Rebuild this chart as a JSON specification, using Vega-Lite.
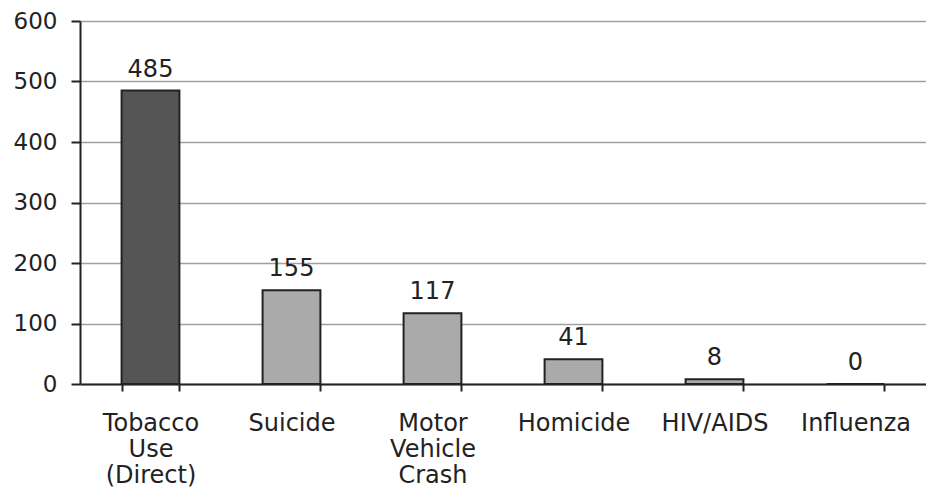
{
  "$schema": "https://vega.github.io/schema/vega-lite/v6.json",
  "autosize": {"type": "none"},
  "width": 846,
  "height": 363,
  "padding": {"left": 80, "top": 21, "right": 0, "bottom": 105},
  "background": "white",
  "data": {
    "values": [
      {"cause": "Tobacco|Use|(Direct)", "deaths": 485, "group": "tobacco"},
      {"cause": "Suicide", "deaths": 155, "group": "other"},
      {"cause": "Motor|Vehicle|Crash", "deaths": 117, "group": "other"},
      {"cause": "Homicide", "deaths": 41, "group": "other"},
      {"cause": "HIV/AIDS", "deaths": 8, "group": "other"},
      {"cause": "Influenza", "deaths": 0, "group": "other"}
    ]
  },
  "config": {
    "view": {"stroke": null},
    "font": "DejaVu Sans"
  },
  "encoding": {
    "x": {
      "field": "cause",
      "type": "nominal",
      "sort": null,
      "scale": {"paddingInner": 0.59, "paddingOuter": 0.295},
      "axis": {
        "title": null,
        "labelAngle": 0,
        "labelExpr": "split(datum.label, '|')",
        "labelLineHeight": 26,
        "labelFontSize": 24,
        "labelColor": "#222",
        "labelPadding": 20,
        "tickBand": "extent",
        "tickSize": 7,
        "tickWidth": 2,
        "tickColor": "#222",
        "domainColor": "#222",
        "domainWidth": 2,
        "grid": false
      }
    },
    "y": {
      "field": "deaths",
      "type": "quantitative",
      "scale": {"domain": [0, 600], "nice": false},
      "axis": {
        "title": null,
        "values": [0, 100, 200, 300, 400, 500, 600],
        "labelFontSize": 23,
        "labelColor": "#222",
        "labelPadding": 14,
        "tickSize": 9,
        "tickWidth": 2,
        "tickColor": "#222",
        "domainColor": "#222",
        "domainWidth": 2,
        "grid": true,
        "gridColor": "#a0a0a0",
        "gridWidth": 1.5
      }
    }
  },
  "layer": [
    {
      "mark": {"type": "bar", "stroke": "#222", "strokeWidth": 2},
      "encoding": {
        "color": {
          "field": "group",
          "type": "nominal",
          "scale": {"domain": ["tobacco", "other"], "range": ["#555555", "#aaaaaa"]},
          "legend": null
        }
      }
    },
    {
      "mark": {"type": "text", "baseline": "alphabetic", "dy": -14, "fontSize": 24, "color": "#222"},
      "encoding": {"text": {"field": "deaths", "type": "quantitative"}}
    }
  ]
}
